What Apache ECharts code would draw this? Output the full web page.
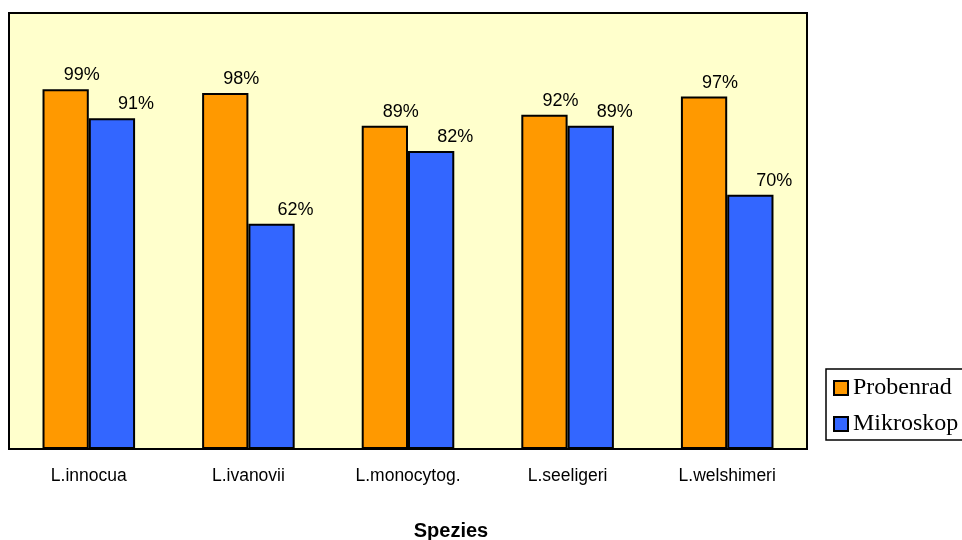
<!DOCTYPE html>
<html>
<head>
<meta charset="utf-8">
<script src="https://cdn.jsdelivr.net/npm/echarts@6/dist/echarts.min.js"></script>
<style>
  html, body { margin: 0; padding: 0; background: #ffffff; }
  #chart { width: 962px; height: 540px; }
</style>
</head>
<body>
<div id="chart"></div>
<script>
// Species and detection rates (%) per method
const categories = ['L.innocua', 'L.ivanovii', 'L.monocytog.', 'L.seeligeri', 'L.welshimeri'];
const probenrad = [99, 98, 89, 92, 97];
const mikroskop = [91, 62, 82, 89, 70];
const seriesNames = ['Probenrad', 'Mikroskop'];
const axisTitle = 'Spezies';

const chart = echarts.init(document.getElementById('chart'), null, { renderer: 'canvas' });

// value labels sit above each bar, nudged to the right of the bar centre
function valueLabel(dx) {
  return {
    show: true,
    position: 'top',
    distance: 5,
    offset: [dx, 0],
    formatter: '{c}%',
    fontFamily: 'Liberation Sans, Arial, sans-serif',
    fontSize: 18,
    color: '#000000'
  };
}

chart.setOption({
  animation: false,
  backgroundColor: '#ffffff',
  title: {
    text: axisTitle,
    left: 446,
    top: 516,
    textAlign: 'center',
    textStyle: {
      fontFamily: 'Liberation Sans, Arial, sans-serif',
      fontSize: 20,
      fontWeight: 'bold',
      color: '#000000'
    }
  },
  grid: {
    left: 9,
    top: 13,
    right: 155,
    bottom: 91,
    show: true,
    backgroundColor: '#FFFFCC',
    borderColor: '#000000',
    borderWidth: 2
  },
  legend: {
    orient: 'vertical',
    left: 826,
    top: 369,
    padding: [7, 20, 4, 7],
    itemGap: 12,
    itemWidth: 14,
    itemHeight: 14,
    icon: 'rect',
    borderColor: '#000000',
    borderWidth: 1.5,
    backgroundColor: '#ffffff',
    textStyle: {
      fontFamily: 'Liberation Serif, Times New Roman, serif',
      fontSize: 24,
      color: '#000000'
    },
    data: seriesNames
  },
  xAxis: {
    type: 'category',
    data: categories,
    axisLine: { show: false },
    axisTick: { show: false },
    axisLabel: {
      margin: 18,
      fontFamily: 'Liberation Sans, Arial, sans-serif',
      fontSize: 17.5,
      color: '#000000'
    }
  },
  yAxis: {
    type: 'value',
    min: 0,
    max: 120,
    interval: 20,
    axisLine: { show: false },
    axisTick: { show: false },
    axisLabel: { show: false },
    splitLine: { show: false }
  },
  series: [
    {
      name: seriesNames[0],
      type: 'bar',
      data: probenrad,
      barWidth: '29%',
      barGap: '0%',
      itemStyle: { color: '#FF9900', borderColor: '#000000', borderWidth: 2 },
      label: valueLabel(16)
    },
    {
      name: seriesNames[1],
      type: 'bar',
      data: mikroskop,
      barWidth: '29%',
      barGap: '0%',
      itemStyle: { color: '#3366FF', borderColor: '#000000', borderWidth: 2 },
      label: valueLabel(24)
    }
  ]
});
</script>
</body>
</html>
